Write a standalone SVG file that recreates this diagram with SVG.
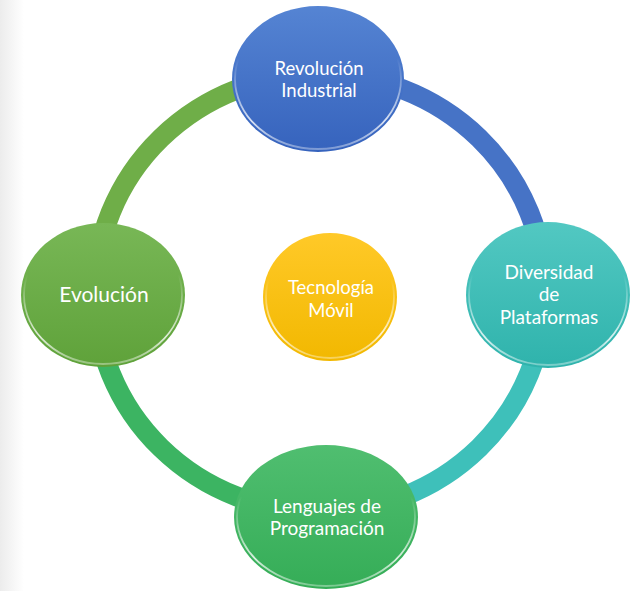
<svg xmlns="http://www.w3.org/2000/svg" width="633" height="591" viewBox="0 0 633 591">
<defs>
<linearGradient id="bgEdge" x1="0" y1="0" x2="1" y2="0">
<stop offset="0" stop-color="#ececec"/>
<stop offset="1" stop-color="#ffffff"/>
</linearGradient>
<linearGradient id="gBlue" x1="0" y1="0" x2="0" y2="1">
<stop offset="0" stop-color="#5584d3"/>
<stop offset="1" stop-color="#3663bd"/>
</linearGradient>
<linearGradient id="gLime" x1="0" y1="0" x2="0" y2="1">
<stop offset="0" stop-color="#78b756"/>
<stop offset="1" stop-color="#5fa23a"/>
</linearGradient>
<linearGradient id="gTeal" x1="0" y1="0" x2="0" y2="1">
<stop offset="0" stop-color="#52c8c2"/>
<stop offset="1" stop-color="#2fb3ac"/>
</linearGradient>
<linearGradient id="gGreen" x1="0" y1="0" x2="0" y2="1">
<stop offset="0" stop-color="#50be70"/>
<stop offset="1" stop-color="#35ad57"/>
</linearGradient>
<linearGradient id="gGold" x1="0" y1="0" x2="0" y2="1">
<stop offset="0" stop-color="#ffc928"/>
<stop offset="1" stop-color="#f2b800"/>
</linearGradient>
<linearGradient id="rim" x1="0" y1="0" x2="0" y2="1">
<stop offset="0.35" stop-color="#ffffff" stop-opacity="0"/>
<stop offset="0.8" stop-color="#ffffff" stop-opacity="0.8"/>
<stop offset="1" stop-color="#ffffff" stop-opacity="0.35"/>
</linearGradient>
</defs>
<style>
.arc{fill:none;stroke-width:20}
.rimline{fill:none;stroke:url(#rim);stroke-width:1.8}
.t{font-family:Lato,"Liberation Sans",sans-serif;fill:#ffffff;text-anchor:middle}
</style>
<rect x="0" y="0" width="633" height="591" fill="#ffffff"/>
<rect x="0" y="0" width="24" height="591" fill="url(#bgEdge)"/>
<g id="connectors">
<path class="arc" stroke="#6fae48" d="M95,293 A225,219 0 0 1 320,74"/>
<path class="arc" stroke="#4673c6" d="M320,74 A225,219 0 0 1 545,293"/>
<path class="arc" stroke="#3ec0ba" d="M545,293 A225,219 0 0 1 320,512"/>
<path class="arc" stroke="#3cb462" d="M320,512 A225,219 0 0 1 95,293"/>
</g>
<g id="node-revolucion">
<ellipse cx="318" cy="79" rx="86" ry="73" fill="url(#gBlue)"/>
<ellipse class="rimline" cx="318" cy="79" rx="83" ry="70"/>
<text class="t" font-size="18.5" x="319" y="75">Revolución</text>
<text class="t" font-size="18.5" x="319" y="97">Industrial</text>
</g>
<g id="node-evolucion">
<ellipse cx="103" cy="295" rx="82" ry="72" fill="url(#gLime)"/>
<ellipse class="rimline" cx="103" cy="295" rx="79" ry="69"/>
<text class="t" font-size="21" x="104" y="302">Evolución</text>
</g>
<g id="node-diversidad">
<ellipse cx="548" cy="295" rx="82" ry="73" fill="url(#gTeal)"/>
<ellipse class="rimline" cx="548" cy="295" rx="79" ry="70"/>
<text class="t" font-size="19" x="549" y="279">Diversidad</text>
<text class="t" font-size="19" x="549" y="301">de</text>
<text class="t" font-size="19" x="549" y="324">Plataformas</text>
</g>
<g id="node-lenguajes">
<ellipse cx="326" cy="517" rx="92" ry="72" fill="url(#gGreen)"/>
<ellipse class="rimline" cx="326" cy="517" rx="89" ry="69"/>
<text class="t" font-size="19" x="327" y="513">Lenguajes de</text>
<text class="t" font-size="19" x="327" y="535">Programación</text>
</g>
<g id="node-tecnologia">
<ellipse cx="330" cy="297" rx="67" ry="64" fill="url(#gGold)"/>
<ellipse class="rimline" cx="330" cy="297" rx="64" ry="61"/>
<text class="t" font-size="18.5" x="331" y="294">Tecnología</text>
<text class="t" font-size="18.5" x="331" y="317">Móvil</text>
</g>
</svg>
